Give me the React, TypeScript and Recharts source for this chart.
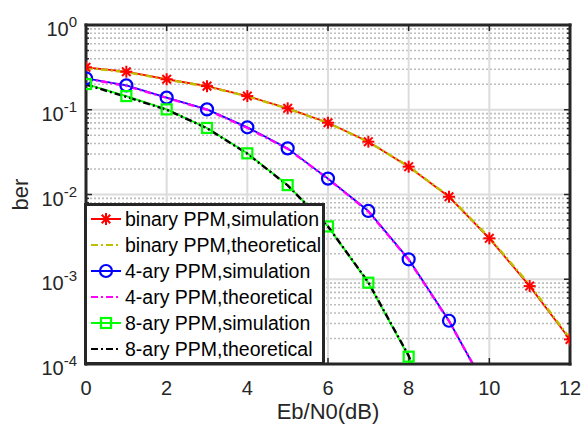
import React from 'react';
import { LineChart, Line, XAxis, YAxis, ReferenceLine, Legend } from 'recharts';

// Eb/N0 (dB) points
const ebn0 = [0, 1, 2, 3, 4, 5, 6, 7, 8, 9, 10, 11, 12];

// BER
const binarySim = [0.317, 0.281, 0.229, 0.19, 0.145, 0.104, 0.0703, 0.042, 0.0213, 0.0094, 0.00304, 0.00083, 0.000195];
const binaryTheory = [0.312, 0.278, 0.227, 0.188, 0.144, 0.103, 0.0698, 0.0419, 0.0214, 0.0095, 0.0031, 0.00086, 0.0002];
const quadSim = [0.235, 0.194, 0.139, 0.101, 0.062, 0.035, 0.0154, 0.0064, 0.00172, 0.000324, 0.000044];
const quadTheory = [0.233, 0.191, 0.138, 0.1, 0.061, 0.0346, 0.0153, 0.0063, 0.0017, 0.00032, 0.000045];
const octSim = [0.201, 0.145, 0.101, 0.061, 0.0306, 0.0129, 0.0042, 0.00091, 0.000122, 0.000006];
const octTheory = [0.198, 0.142, 0.1, 0.0605, 0.0303, 0.0128, 0.0042, 0.00092, 0.000125, 0.0000065];

const xTicks = [0, 2, 4, 6, 8, 10, 12];
const yTicks = [1, 0.1, 0.01, 0.001, 0.0001];
const yMinor = [0.0001, 0.001, 0.01, 0.1].flatMap((d) => [2, 3, 4, 5, 6, 7, 8, 9].map((m) => m * d));

const pts = (vals: number[]) => vals.map((v, i) => ({ x: ebn0[i], y: v }));

const TXT = '#262626';
const FONT = '"Liberation Sans", Arial, Helvetica, sans-serif';
const DASHDOT = '7 3 2 3';

function Star({ cx, cy, color }: { cx: number; cy: number; color: string }) {
  const r = 6;
  const d = 4.3;
  return (
    <g stroke={color} strokeWidth={2}>
      <line x1={cx - r} y1={cy} x2={cx + r} y2={cy} />
      <line x1={cx} y1={cy - r} x2={cx} y2={cy + r} />
      <line x1={cx - d} y1={cy - d} x2={cx + d} y2={cy + d} />
      <line x1={cx - d} y1={cy + d} x2={cx + d} y2={cy - d} />
    </g>
  );
}

function Marker({ kind, cx, cy, color }: { kind: string; cx: number; cy: number; color: string }) {
  if (kind === 'star') return <Star cx={cx} cy={cy} color={color} />;
  if (kind === 'circle') return <circle cx={cx} cy={cy} r={6} fill="none" stroke={color} strokeWidth={2.2} />;
  if (kind === 'square') return <rect x={cx - 5} y={cy - 5} width={10} height={10} fill="none" stroke={color} strokeWidth={2.2} />;
  return null;
}

const dotFor = (kind: string, color: string) => (p: any) => (
  <g key={`${kind}-${p.index}`}>
    <Marker kind={kind} cx={p.cx} cy={p.cy} color={color} />
  </g>
);

const legendItems = [
  { label: 'binary PPM,simulation', color: '#ff0000', dash: undefined, marker: 'star' },
  { label: 'binary PPM,theoretical', color: '#bfbf00', dash: DASHDOT, marker: '' },
  { label: '4-ary PPM,simulation', color: '#0000ff', dash: undefined, marker: 'circle' },
  { label: '4-ary PPM,theoretical', color: '#ff00ff', dash: DASHDOT, marker: '' },
  { label: '8-ary PPM,simulation', color: '#00ff00', dash: undefined, marker: 'square' },
  { label: '8-ary PPM,theoretical', color: '#000000', dash: DASHDOT, marker: '' },
];

function LegendBox() {
  return (
    <div style={{ border: `3px solid ${TXT}`, background: '#fff', width: 235, fontFamily: FONT }}>
      {legendItems.map((it) => (
        <div key={it.label} style={{ display: 'flex', alignItems: 'center', height: 26 }}>
          <svg width={38} height={26} style={{ flex: 'none' }}>
            <line x1={4} y1={13} x2={34} y2={13} stroke={it.color} strokeWidth={2} strokeDasharray={it.dash} />
            <Marker kind={it.marker} cx={19} cy={13} color={it.color} />
          </svg>
          <span style={{ fontSize: 19.5, color: '#000', whiteSpace: 'nowrap' }}>{it.label}</span>
        </div>
      ))}
    </div>
  );
}

function YTick({ x, y, payload }: any) {
  const e = Math.round(Math.log10(payload.value));
  return (
    <text x={x} y={y + 11} textAnchor="end" fill={TXT} fontSize={20} fontFamily={FONT}>
      <tspan>10</tspan>
      <tspan dy={-9} fontSize={15}>{e}</tspan>
    </text>
  );
}

function XTick({ x, y, payload }: any) {
  return (
    <text x={x} y={y + 31} textAnchor="middle" fill={TXT} fontSize={20} fontFamily={FONT}>
      {payload.value}
    </text>
  );
}

const hLine = (tick: number, dotted: boolean) => (p: any) => {
  const l = Math.min(p.x1, p.x2);
  const r = Math.max(p.x1, p.x2);
  return (
    <g>
      <line x1={l} y1={p.y1} x2={r} y2={p.y1} stroke={dotted ? '#bdbdbd' : '#dcdcdc'} strokeWidth={dotted ? 1.6 : 2} strokeDasharray={dotted ? '2 2' : undefined} />
      <line x1={l} y1={p.y1} x2={l + tick} y2={p.y1} stroke={TXT} strokeWidth={1.5} />
      <line x1={r} y1={p.y1} x2={r - tick} y2={p.y1} stroke={TXT} strokeWidth={1.5} />
    </g>
  );
};

const vLine = (p: any) => {
  const t = Math.min(p.y1, p.y2);
  const b = Math.max(p.y1, p.y2);
  return (
    <g>
      <line x1={p.x1} y1={t} x2={p.x1} y2={b} stroke="#dcdcdc" strokeWidth={2} />
      <line x1={p.x1} y1={b} x2={p.x1} y2={b - 6} stroke={TXT} strokeWidth={1.5} />
      <line x1={p.x1} y1={t} x2={p.x1} y2={t + 6} stroke={TXT} strokeWidth={1.5} />
    </g>
  );
};

// thick axes box edge, drawn after the curves
const edge = (p: any) => (
  <line x1={p.x1} y1={p.y1} x2={p.x2} y2={p.y2} stroke={TXT} strokeWidth={3} strokeLinecap="square" />
);

export default function App() {
  return (
    <div style={{ position: 'absolute', left: 0, top: 0, width: 584, height: 429, background: '#fff', fontFamily: FONT }}>
      <LineChart width={584} height={429} margin={{ top: 25, right: 14, bottom: 35, left: 26 }}>
        <XAxis
          dataKey="x"
          type="number"
          domain={[0, 12]}
          ticks={xTicks}
          allowDataOverflow
          axisLine={false}
          tickLine={false}
          tickSize={0}
          tickMargin={0}
          height={30}
          tick={<XTick />}
          label={{
            content: ({ viewBox }: any) => (
              <text x={viewBox.x + viewBox.width / 2} y={419} textAnchor="middle" fill={TXT} fontSize={22} fontFamily={FONT}>
                Eb/N0(dB)
              </text>
            ),
          }}
        />
        <YAxis
          dataKey="y"
          scale="log"
          domain={[0.0001, 1]}
          ticks={yTicks}
          allowDataOverflow
          axisLine={false}
          tickLine={false}
          tickSize={0}
          tickMargin={9}
          width={60}
          tick={<YTick />}
          label={{
            content: ({ viewBox }: any) => (
              <text
                x={28}
                y={viewBox.y + viewBox.height / 2}
                transform={`rotate(-90 28 ${viewBox.y + viewBox.height / 2})`}
                textAnchor="middle"
                fill={TXT}
                fontSize={22}
                fontFamily={FONT}
              >
                ber
              </text>
            ),
          }}
        />
        {yMinor.map((v) => (
          <ReferenceLine key={`mn-${v}`} y={v} shape={hLine(3, true)} />
        ))}
        {yTicks.map((v) => (
          <ReferenceLine key={`mj-${v}`} y={v} shape={hLine(6, false)} />
        ))}
        {xTicks.map((v) => (
          <ReferenceLine key={`vx-${v}`} x={v} shape={vLine} />
        ))}
        <Line data={pts(binarySim)} dataKey="y" stroke="#ff0000" strokeWidth={1.8} dot={dotFor('star', '#ff0000')} activeDot={false} isAnimationActive={false} />
        <Line data={pts(binaryTheory)} dataKey="y" stroke="#bfbf00" strokeWidth={2.4} strokeDasharray={DASHDOT} dot={false} activeDot={false} isAnimationActive={false} />
        <Line data={pts(quadSim)} dataKey="y" stroke="#0000ff" strokeWidth={1.8} dot={dotFor('circle', '#0000ff')} activeDot={false} isAnimationActive={false} />
        <Line data={pts(quadTheory)} dataKey="y" stroke="#ff00ff" strokeWidth={2.4} strokeDasharray={DASHDOT} dot={false} activeDot={false} isAnimationActive={false} />
        <Line data={pts(octSim)} dataKey="y" stroke="#00ff00" strokeWidth={1.8} dot={dotFor('square', '#00ff00')} activeDot={false} isAnimationActive={false} />
        <Line data={pts(octTheory)} dataKey="y" stroke="#000000" strokeWidth={2.4} strokeDasharray={DASHDOT} dot={false} activeDot={false} isAnimationActive={false} />
        <ReferenceLine y={1} shape={edge} />
        <ReferenceLine y={0.0001} shape={edge} />
        <ReferenceLine x={0} shape={edge} />
        <ReferenceLine x={12} shape={edge} />
        <Legend
          layout="vertical"
          align="center"
          verticalAlign="middle"
          content={<LegendBox />}
          wrapperStyle={{ left: 84, top: 203, width: 241, height: 163 }}
        />
      </LineChart>
    </div>
  );
}
